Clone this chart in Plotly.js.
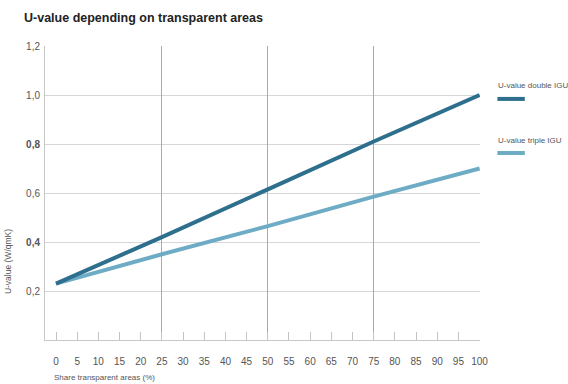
<!DOCTYPE html>
<html>
<head>
<meta charset="utf-8">
<script src="https://cdn.plot.ly/plotly-3.0.1.min.js"></script>
<style>html,body{margin:0;padding:0;background:#fff;}#chart{width:568px;height:384px;}</style>
</head>
<body>
<div id="chart"></div>
<script>
var share = [0, 25, 50, 75, 100];
var uDouble = [0.23, 0.42, 0.615, 0.81, 1.0];
var uTriple = [0.23, 0.35, 0.465, 0.585, 0.70];
var xTickVals = [0,5,10,15,20,25,30,35,40,45,50,55,60,65,70,75,80,85,90,95,100];
var xTickText = ['0','5','10','15','20','25','30','35','40','45','50','55','60','65','70','75','80','85','90','95','100'];
var yTickVals = [0.2, 0.4, 0.6, 0.8, 1.0, 1.2];
var yTickText = ['0,2', '<b>0,4</b>', '0,6', '<b>0,8</b>', '1,0', '1,2'];
var seriesNames = ['U-value double IGU', 'U-value triple IGU'];
var colDouble = '#2d6f8d';
var colTriple = '#6eacc6';
var font = 'Liberation Sans, Arial, sans-serif';

var traces = [
  {x: share, y: uTriple, type: 'scatter', mode: 'lines', name: seriesNames[1],
   line: {color: colTriple, width: 4}, xaxis: 'x', yaxis: 'y', hoverinfo: 'skip'},
  {x: share, y: uDouble, type: 'scatter', mode: 'lines', name: seriesNames[0],
   line: {color: colDouble, width: 4}, xaxis: 'x2', yaxis: 'y', hoverinfo: 'skip'}
];

var layout = {
  width: 568, height: 384,
  margin: {l: 45, r: 88, t: 46, b: 44},
  paper_bgcolor: '#fff', plot_bgcolor: '#fff',
  showlegend: false,
  font: {family: font, color: '#555', size: 10},
  title: {text: '<b>U-value depending on transparent areas</b>', x: 0, xref: 'paper', xanchor: 'left',
          y: 0.965, yref: 'container', font: {family: font, size: 12.5, color: '#222'}, pad: {l: -21}},
  xaxis: {
    range: [-2.6, 100.1], tickmode: 'array', tickvals: xTickVals, ticktext: xTickText,
    ticks: 'inside', ticklen: 8, tickcolor: '#c4c4c4', tickwidth: 1,
    showgrid: false, zeroline: false, showline: true, linecolor: '#c8c8c8', linewidth: 1,
    ticklabelstandoff: 12, tickfont: {family: font, size: 10, color: '#555'}
  },
  xaxis2: {
    overlaying: 'x', matches: 'x', anchor: 'y', side: 'bottom',
    tickmode: 'array', tickvals: [25, 50, 75, 100], showticklabels: false, ticks: '',
    showgrid: true, gridcolor: '#a9a9a9', gridwidth: 1, zeroline: false, showline: false
  },
  yaxis: {
    range: [0, 1.2], tickmode: 'array', tickvals: yTickVals, ticktext: yTickText,
    ticks: '', showgrid: true, gridcolor: '#d6d6d6', gridwidth: 1, zeroline: false,
    showline: true, linecolor: '#c8c8c8', linewidth: 1, ticklabelstandoff: 2,
    tickfont: {family: font, size: 10, color: '#555'}
  },
  annotations: [
    {text: 'U-value (W/qmK)', xref: 'paper', yref: 'paper', x: -0.085, y: 0.265, textangle: -90,
     showarrow: false, font: {family: font, size: 8.5, color: '#555'}, xanchor: 'center', yanchor: 'middle'},
    {text: 'Share transparent areas (%)', xref: 'paper', yref: 'paper', x: 0.016, y: -0.129,
     xanchor: 'left', yanchor: 'middle', showarrow: false, font: {family: font, size: 8, color: '#555'}},
    {text: seriesNames[0], xref: 'paper', yref: 'paper', x: 1.037, y: 0.864, xanchor: 'left', yanchor: 'middle',
     showarrow: false, font: {family: font, size: 8, color: '#555'}},
    {text: seriesNames[1], xref: 'paper', yref: 'paper', x: 1.037, y: 0.679, xanchor: 'left', yanchor: 'middle',
     showarrow: false, font: {family: font, size: 8, color: '#555'}}
  ],
  shapes: [
    {type: 'line', xref: 'paper', yref: 'paper', x0: 1.04, x1: 1.103, y0: 0.820, y1: 0.820,
     line: {color: colDouble, width: 4}},
    {type: 'line', xref: 'paper', yref: 'paper', x0: 1.04, x1: 1.103, y0: 0.636, y1: 0.636,
     line: {color: colTriple, width: 4}}
  ]
};

Plotly.newPlot('chart', traces, layout, {staticPlot: true, displayModeBar: false});
</script>
</body>
</html>
